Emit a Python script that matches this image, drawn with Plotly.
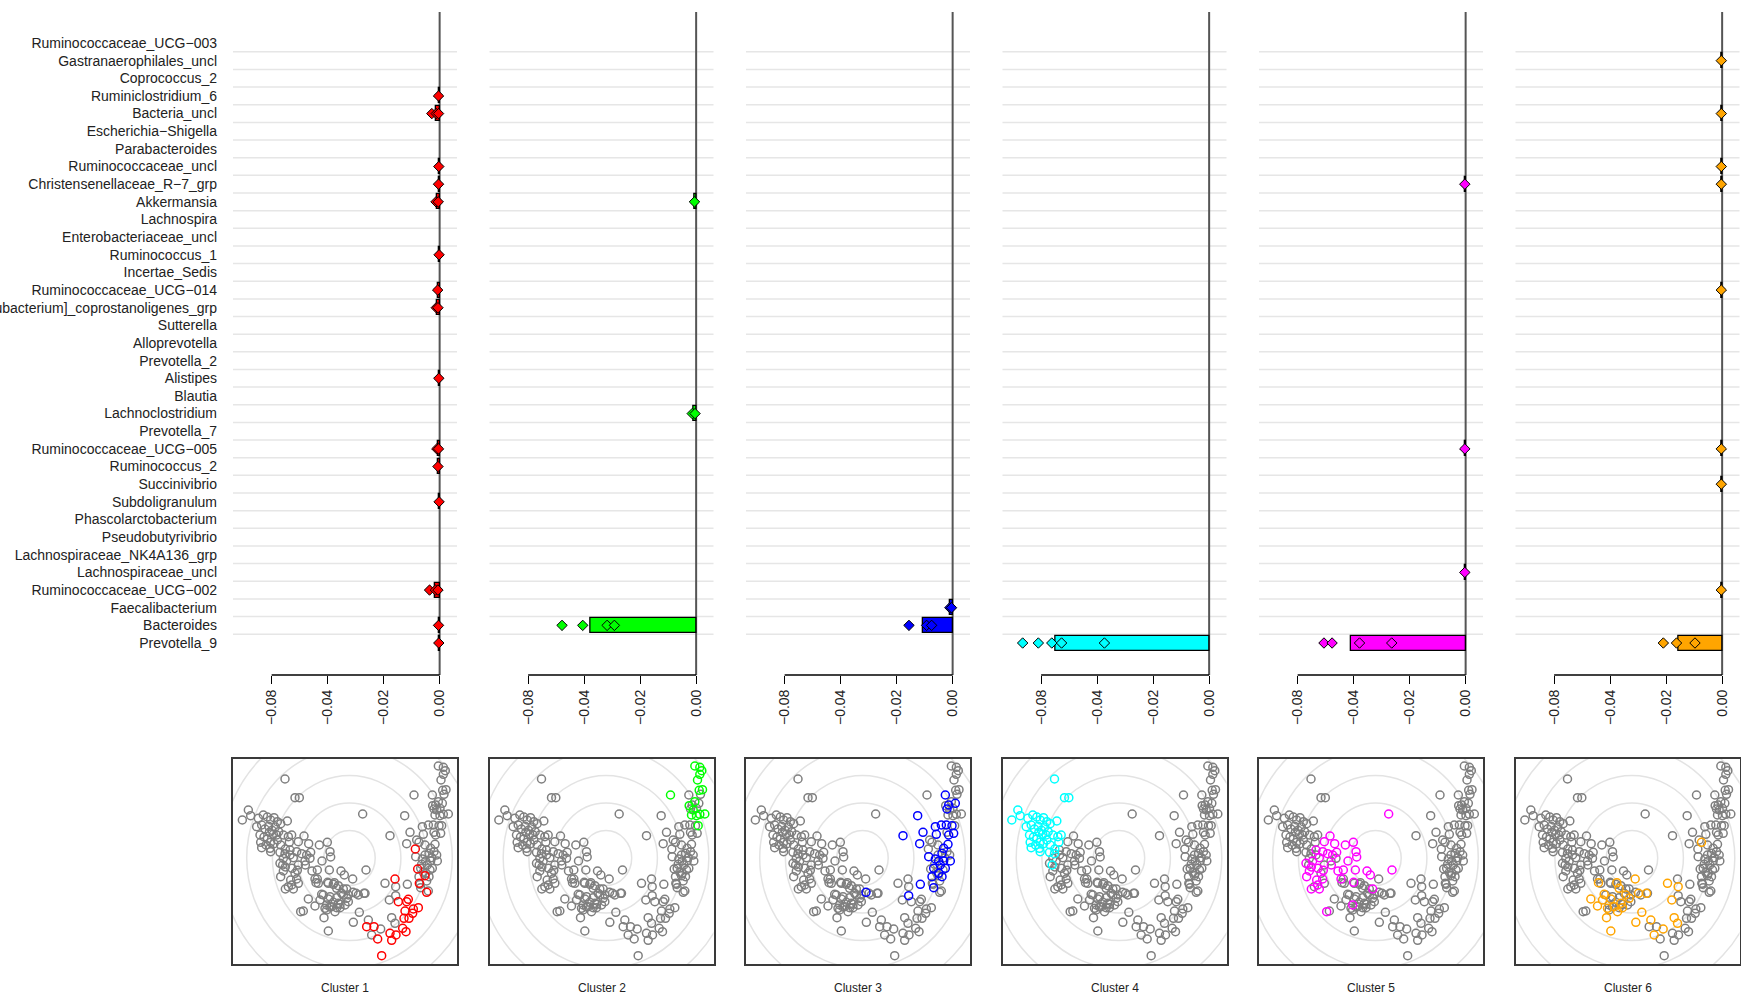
import plotly.graph_objects as go

W, H = 1741, 997
FONT = "Liberation Sans, Arial, sans-serif"

taxa = ["Ruminococcaceae_UCG−003", "Gastranaerophilales_uncl", "Coprococcus_2", "Ruminiclostridium_6",
        "Bacteria_uncl", "Escherichia−Shigella", "Parabacteroides", "Ruminococcaceae_uncl",
        "Christensenellaceae_R−7_grp", "Akkermansia", "Lachnospira", "Enterobacteriaceae_uncl",
        "Ruminococcus_1", "Incertae_Sedis", "Ruminococcaceae_UCG−014", "[Eubacterium]_coprostanoligenes_grp",
        "Sutterella", "Alloprevotella", "Prevotella_2", "Alistipes", "Blautia", "Lachnoclostridium",
        "Prevotella_7", "Ruminococcaceae_UCG−005", "Ruminococcus_2", "Succinivibrio", "Subdoligranulum",
        "Phascolarctobacterium", "Pseudobutyrivibrio", "Lachnospiraceae_NK4A136_grp", "Lachnospiraceae_uncl",
        "Ruminococcaceae_UCG−002", "Faecalibacterium", "Bacteroides", "Prevotella_9"]

cluster_names = ["Cluster 1", "Cluster 2", "Cluster 3", "Cluster 4", "Cluster 5", "Cluster 6"]
cluster_colors = ["#FF0000", "#00FF00", "#0000FF", "#00FFFF", "#FF00FF", "#FFA500"]

x_tickvals = [-0.06, -0.04, -0.02, 0.0]
x_ticktext = ["−0.08", "−0.04", "−0.02", "0.00"]

# ---- per-cluster bar values (mean difference) ----
c1_bar_taxa = ["Ruminiclostridium_6", "Bacteria_uncl", "Ruminococcaceae_uncl", "Christensenellaceae_R−7_grp",
               "Akkermansia", "Ruminococcus_1", "Ruminococcaceae_UCG−014", "[Eubacterium]_coprostanoligenes_grp",
               "Alistipes", "Ruminococcaceae_UCG−005", "Ruminococcus_2", "Subdoligranulum",
               "Ruminococcaceae_UCG−002", "Bacteroides", "Prevotella_9"]
c1_bar_vals = [-0.0003, -0.0012, -0.0003, -0.0004, -0.0008, -0.0002, -0.0006, -0.0008,
               -0.0003, -0.0006, -0.0005, -0.0002, -0.0015, -0.0004, -0.0003]
c1_pt_taxa = ["Ruminiclostridium_6", "Bacteria_uncl", "Bacteria_uncl", "Bacteria_uncl", "Ruminococcaceae_uncl",
              "Christensenellaceae_R−7_grp", "Akkermansia", "Akkermansia", "Ruminococcus_1",
              "Ruminococcaceae_UCG−014", "[Eubacterium]_coprostanoligenes_grp", "[Eubacterium]_coprostanoligenes_grp",
              "Alistipes", "Ruminococcaceae_UCG−005", "Ruminococcaceae_UCG−005", "Ruminococcus_2", "Subdoligranulum",
              "Ruminococcaceae_UCG−002", "Ruminococcaceae_UCG−002", "Ruminococcaceae_UCG−002", "Bacteroides", "Prevotella_9"]
c1_pt_vals = [-0.0004, -0.0028, -0.0012, -0.0004, -0.0003, -0.0004, -0.0013, -0.0005, -0.0002,
              -0.0007, -0.0012, -0.0006, -0.0003, -0.0010, -0.0004, -0.0006, -0.0002,
              -0.0036, -0.0015, -0.0006, -0.0004, -0.0003]

c2_bar_taxa = ["Akkermansia", "Lachnoclostridium", "Bacteroides"]
c2_bar_vals = [-0.0005, -0.0008, -0.0377]
c2_pt_taxa = ["Akkermansia", "Lachnoclostridium", "Lachnoclostridium", "Bacteroides", "Bacteroides", "Bacteroides", "Bacteroides"]
c2_pt_vals = [-0.0006, -0.0014, -0.0004, -0.0479, -0.0405, -0.0318, -0.0292]

c3_bar_taxa = ["Faecalibacterium", "Bacteroides"]
c3_bar_vals = [-0.0008, -0.0105]
c3_pt_taxa = ["Faecalibacterium", "Faecalibacterium", "Bacteroides", "Bacteroides", "Bacteroides"]
c3_pt_vals = [-0.0010, -0.0004, -0.0156, -0.0093, -0.0075]

c4_bar_taxa = ["Prevotella_9"]
c4_bar_vals = [-0.0550]
c4_pt_taxa = ["Prevotella_9"] * 5
c4_pt_vals = [-0.0666, -0.0610, -0.0562, -0.0527, -0.0374]

c5_bar_taxa = ["Christensenellaceae_R−7_grp", "Ruminococcaceae_UCG−005", "Lachnospiraceae_uncl", "Prevotella_9"]
c5_bar_vals = [-0.0003, -0.0003, -0.0003, -0.0409]
c5_pt_taxa = ["Christensenellaceae_R−7_grp", "Ruminococcaceae_UCG−005", "Lachnospiraceae_uncl",
              "Prevotella_9", "Prevotella_9", "Prevotella_9", "Prevotella_9"]
c5_pt_vals = [-0.0003, -0.0003, -0.0003, -0.0506, -0.0477, -0.0379, -0.0264]

c6_bar_taxa = ["Gastranaerophilales_uncl", "Bacteria_uncl", "Ruminococcaceae_uncl", "Christensenellaceae_R−7_grp",
               "Ruminococcaceae_UCG−014", "Ruminococcaceae_UCG−005", "Succinivibrio", "Ruminococcaceae_UCG−002",
               "Prevotella_9"]
c6_bar_vals = [-0.0003, -0.0003, -0.0003, -0.0003, -0.0003, -0.0003, -0.0003, -0.0003, -0.0157]
c6_pt_taxa = ["Gastranaerophilales_uncl", "Bacteria_uncl", "Ruminococcaceae_uncl", "Christensenellaceae_R−7_grp",
              "Ruminococcaceae_UCG−014", "Ruminococcaceae_UCG−005", "Succinivibrio", "Ruminococcaceae_UCG−002",
              "Prevotella_9", "Prevotella_9", "Prevotella_9"]
c6_pt_vals = [-0.0003, -0.0003, -0.0003, -0.0003, -0.0003, -0.0003, -0.0003, -0.0003, -0.0210, -0.0163, -0.0097]

bars = [(c1_bar_taxa, c1_bar_vals, c1_pt_taxa, c1_pt_vals),
        (c2_bar_taxa, c2_bar_vals, c2_pt_taxa, c2_pt_vals),
        (c3_bar_taxa, c3_bar_vals, c3_pt_taxa, c3_pt_vals),
        (c4_bar_taxa, c4_bar_vals, c4_pt_taxa, c4_pt_vals),
        (c5_bar_taxa, c5_bar_vals, c5_pt_taxa, c5_pt_vals),
        (c6_bar_taxa, c6_bar_vals, c6_pt_taxa, c6_pt_vals)]

# ---- ordination points (arbitrary ordination units), by cluster membership ----
c0_ax1 = [205, 225, 180, 195, 175, 205, 240, 295, 310, 325, 340, 355, 335, 320, 310, 300, 345, 355, 330, 385,
          405, 265, 585, 612, 575, 590, 620, 560, 160, 220, 290, 320, 262, 280, 300, 605, 585, 600, 580, 570,
          595, 642, 630, 612]
c0_ax2 = [330, 318, 300, 355, 395, 385, 310, 385, 388, 392, 402, 420, 415, 428, 442, 456, 450, 440, 448, 420,
          415, 385, 270, 290, 328, 378, 300, 255, 310, 468, 465, 458, 372, 420, 425, 308, 300, 345, 352, 388,
          408, 118, 160, 232]
c1_ax1 = [556, 563, 495, 568, 585, 590, 530, 505, 535, 525, 550, 565, 537, 522, 518, 528, 410, 432, 443, 480,
          485, 498, 455, 548]
c1_ax2 = [282, 342, 372, 385, 362, 412, 440, 440, 433, 468, 462, 458, 490, 490, 520, 530, 515, 515, 552, 535,
          556, 540, 602, 475]
c2_ax1 = [625, 640, 646, 640, 633, 638, 648, 552, 625, 620, 615, 630, 640, 655, 635, 608]
c2_ax2 = [33, 37, 47, 58, 75, 106, 104, 120, 140, 165, 180, 182, 178, 177, 212, 152]
c3_ax1 = [607, 617, 637, 612, 524, 595, 610, 627, 577, 632, 617, 540, 480, 580, 530, 615, 602, 597, 557, 577,
          587, 602, 622, 592, 572, 607, 587, 597, 567, 572, 532, 497, 369]
c3_ax2 = [120, 150, 145, 162, 182, 210, 210, 212, 215, 235, 240, 232, 242, 238, 266, 268, 280, 295, 305, 312,
          318, 318, 318, 330, 340, 340, 355, 365, 365, 398, 388, 422, 412]
c4_ax1 = [165, 195, 208, 55, 37, 62, 85, 100, 112, 122, 132, 142, 152, 172, 80, 95, 105, 116, 126, 136, 146, 160,
          175, 185, 90, 102, 112, 122, 132, 142, 152, 92, 108, 120, 95, 122, 150, 165, 178, 166, 158, 130, 118, 140]
c4_ax2 = [72, 128, 128, 165, 195, 182, 190, 180, 186, 195, 188, 200, 206, 198, 215, 210, 222, 214, 226, 216, 230,
          240, 245, 240, 240, 246, 252, 262, 266, 255, 270, 262, 270, 280, 278, 290, 292, 296, 262, 282, 330, 238,
          232, 240]
c5_ax1 = [222, 205, 236, 268, 292, 180, 200, 215, 230, 242, 300, 302, 276, 190, 170, 150, 166, 186, 202, 226, 160,
          246, 262, 298, 333, 343, 152, 182, 200, 255, 293, 166, 190, 185, 350, 290, 212, 398, 408]
c5_ax2 = [243, 260, 266, 270, 262, 285, 290, 296, 300, 292, 290, 306, 318, 308, 318, 325, 336, 340, 346, 330, 348,
          348, 345, 345, 348, 360, 365, 375, 372, 372, 382, 402, 402, 390, 402, 450, 470, 177, 345]
c6_ax1 = [567, 258, 313, 368, 465, 497, 275, 320, 340, 378, 402, 235, 270, 295, 325, 350, 255, 285, 305, 330, 315,
          388, 478, 282, 370, 415, 485, 495, 452, 425, 295]
c6_ax2 = [262, 383, 383, 372, 385, 395, 418, 400, 420, 415, 415, 432, 435, 432, 445, 430, 453, 460, 455, 458, 470,
          472, 435, 488, 502, 495, 488, 505, 522, 540, 528]

groups_ax1 = [c0_ax1, c1_ax1, c2_ax1, c3_ax1, c4_ax1, c5_ax1, c6_ax1]
groups_ax2 = [c0_ax2, c1_ax2, c2_ax2, c3_ax2, c4_ax2, c5_ax2, c6_ax2]

ring_center = (358.5, 309.3)
ring_step = (77.1, 82.5)
ring_count = 5

# ---------------- layout geometry (pixels) ----------------
panel_step = 256.5
panel_left0 = 233.0
panel_w = 224.0
top_y0, top_y1 = 12.0, 675.0
bot_y0, bot_y1 = 759.0, 964.0
top_xrange = [-0.0738, 0.0062]
row_pad_top, row_pad_bot = 1.757, 1.813


def px(x):
    return x / W


def py(y):
    return 1 - y / H


fig = go.Figure()
layout = dict(width=W, height=H, margin=dict(l=0, r=0, t=0, b=0), paper_bgcolor="white",
              plot_bgcolor="white", showlegend=False, font=dict(family=FONT, color="#222"))
shapes = []
annotations = []
row_of = {t: i + 1 for i, t in enumerate(taxa)}
n = len(taxa)

for i in range(6):
    left = panel_left0 + panel_step * i
    dom_x = [px(left), px(left + panel_w)]
    # ---- top panel ----
    k = i + 1
    xa = "x" if k == 1 else f"x{k}"
    ya = "y" if k == 1 else f"y{k}"
    bt, bv, pt, pv = bars[i]
    col = cluster_colors[i]
    fig.add_trace(go.Bar(x=bv, y=[row_of[t] for t in bt], orientation="h", width=0.85,
                         marker=dict(color=col, line=dict(color="black", width=1.3)),
                         xaxis=xa, yaxis=ya, hoverinfo="skip"))
    fig.add_trace(go.Scatter(x=pv, y=[row_of[t] for t in pt], mode="markers",
                             marker=dict(symbol="diamond", size=8, color=col,
                                         line=dict(color="black", width=1)),
                             xaxis=xa, yaxis=ya, hoverinfo="skip"))
    xkey = "xaxis" if k == 1 else f"xaxis{k}"
    ykey = "yaxis" if k == 1 else f"yaxis{k}"
    layout[xkey] = dict(domain=dom_x, range=top_xrange, anchor=ya, showgrid=False, zeroline=False,
                        showline=False, ticks="outside", ticklen=8, tickwidth=1.3, tickcolor="black",
                        tickvals=x_tickvals, ticktext=x_ticktext, tickangle=-90,
                        tickfont=dict(size=14, color="#222", family=FONT), automargin=False)
    layout[ykey] = dict(domain=[py(top_y1), py(top_y0)], range=[n + row_pad_bot, 1 - row_pad_top],
                        anchor=xa, showgrid=False, zeroline=False, showline=False, ticks="",
                        tickvals=list(range(1, n + 1)), ticktext=taxa, showticklabels=(k == 1),
                        ticklabelstandoff=15, tickfont=dict(size=14, color="#222", family=FONT),
                        automargin=False)
    xref = xa
    yref = ya
    for r in range(1, n):
        shapes.append(dict(type="line", xref=f"{xref} domain", yref=yref, x0=0, x1=1, y0=r + 0.5, y1=r + 0.5,
                           line=dict(color="#e6e6e6", width=1.5), layer="below"))
    shapes.append(dict(type="line", xref=xref, yref=f"{yref} domain", x0=0, x1=0, y0=0, y1=1,
                       line=dict(color="#555555", width=2), layer="below"))
    shapes.append(dict(type="line", xref=xref, yref=f"{yref} domain", x0=x_tickvals[0], x1=x_tickvals[-1],
                       y0=0, y1=0, line=dict(color="black", width=1.3), layer="below"))

    # ---- bottom scatter panel ----
    k2 = i + 7
    xa2, ya2 = f"x{k2}", f"y{k2}"
    cid = i + 1
    for g in range(7):
        if g == cid:
            continue
        fig.add_trace(go.Scatter(x=groups_ax1[g], y=groups_ax2[g], mode="markers",
                                 marker=dict(symbol="circle-open", size=8, color="#7f7f7f",
                                             line=dict(width=1.5)),
                                 xaxis=xa2, yaxis=ya2, hoverinfo="skip"))
    fig.add_trace(go.Scatter(x=groups_ax1[cid], y=groups_ax2[cid], mode="markers",
                             marker=dict(symbol="circle-open", size=8, color=col, line=dict(width=1.5)),
                             xaxis=xa2, yaxis=ya2, hoverinfo="skip"))
    layout[f"xaxis{k2}"] = dict(domain=dom_x, range=[9, 681], anchor=ya2, showgrid=False, zeroline=False,
                                showline=True, mirror=True, linecolor="#3a3a3a", linewidth=2,
                                showticklabels=False, ticks="", automargin=False)
    layout[f"yaxis{k2}"] = dict(domain=[py(bot_y1), py(bot_y0)], range=[627, 12], anchor=xa2,
                                showgrid=False, zeroline=False, showline=True, mirror=True,
                                linecolor="#3a3a3a", linewidth=2, showticklabels=False, ticks="",
                                automargin=False)
    for r in range(1, ring_count + 1):
        shapes.append(dict(type="circle", xref=xa2, yref=ya2,
                           x0=ring_center[0] - r * ring_step[0], x1=ring_center[0] + r * ring_step[0],
                           y0=ring_center[1] - r * ring_step[1], y1=ring_center[1] + r * ring_step[1],
                           line=dict(color="#e3e3e3", width=1.5), layer="below"))
    annotations.append(dict(text=cluster_names[i], x=px(left + panel_w / 2), y=py(988), xref="paper",
                            yref="paper", showarrow=False, xanchor="center", yanchor="middle",
                            font=dict(size=12, color="#222", family=FONT)))

layout["shapes"] = shapes
layout["annotations"] = annotations
layout["bargap"] = 0
fig.update_layout(**layout)
fig.write_html("out.html")
